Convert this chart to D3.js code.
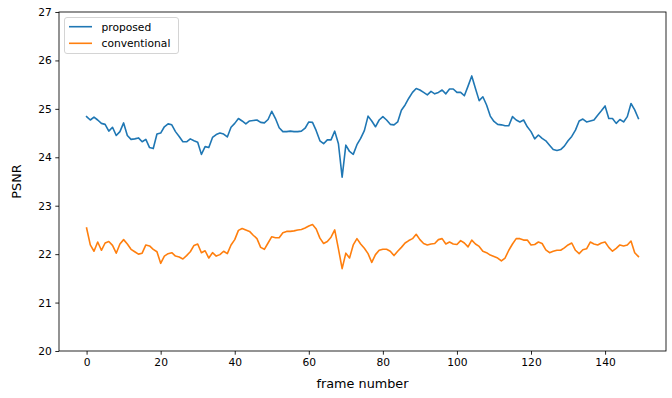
<!DOCTYPE html>
<html>
<head>
<meta charset="utf-8">
<script src="https://cdn.jsdelivr.net/npm/d3@7"></script>
<style>
  body { margin: 0; background: #fff; }
  svg { display: block; font-family: "DejaVu Sans", sans-serif; }
</style>
</head>
<body>
<svg id="chart" width="672" height="398"></svg>
<script>
// PSNR per frame
const proposed = [
  24.84, 24.77, 24.83, 24.77, 24.70, 24.68, 24.54, 24.62, 24.45, 24.53,
  24.71, 24.45, 24.37, 24.38, 24.40, 24.32, 24.37, 24.20, 24.18, 24.48,
  24.50, 24.63, 24.69, 24.67, 24.53, 24.43, 24.32, 24.32, 24.38, 24.34,
  24.31, 24.06, 24.22, 24.20, 24.41, 24.47, 24.50, 24.48, 24.42, 24.62,
  24.70, 24.80, 24.75, 24.69, 24.75, 24.76, 24.77, 24.72, 24.71, 24.78,
  24.95, 24.80, 24.61, 24.53, 24.53, 24.54, 24.53, 24.53, 24.54, 24.60,
  24.73, 24.72, 24.55, 24.34, 24.28, 24.36, 24.36, 24.54, 24.28, 23.59,
  24.25, 24.12, 24.06, 24.26, 24.39, 24.55, 24.85, 24.75, 24.63, 24.77,
  24.84, 24.77, 24.68, 24.67, 24.73, 24.97, 25.08, 25.22, 25.34, 25.42,
  25.39, 25.34, 25.29, 25.36, 25.31, 25.34, 25.39, 25.31, 25.41, 25.41,
  25.34, 25.34, 25.27, 25.47, 25.68, 25.42, 25.17, 25.25, 25.08, 24.85,
  24.74, 24.68, 24.67, 24.65, 24.65, 24.84, 24.77, 24.73, 24.77, 24.63,
  24.53, 24.38, 24.46, 24.39, 24.34, 24.25, 24.16, 24.14, 24.16, 24.23,
  24.34, 24.43, 24.56, 24.75, 24.79, 24.73, 24.75, 24.77, 24.87, 24.96,
  25.06, 24.80, 24.80, 24.70, 24.78, 24.73, 24.84, 25.11, 24.98, 24.80
];
const conventional = [
  22.54, 22.19, 22.06, 22.25, 22.08, 22.23, 22.26, 22.18, 22.02, 22.21,
  22.30, 22.21, 22.10, 22.05, 22.00, 22.02, 22.19, 22.17, 22.10, 22.05,
  21.81, 21.96, 22.01, 22.03, 21.96, 21.94, 21.90, 21.97, 22.05, 22.18,
  22.21, 22.03, 22.07, 21.92, 22.03, 21.96, 21.99, 22.06, 22.01, 22.19,
  22.30, 22.49, 22.53, 22.50, 22.47, 22.39, 22.32, 22.14, 22.10, 22.23,
  22.36, 22.34, 22.34, 22.44, 22.47, 22.47, 22.48, 22.50, 22.51, 22.54,
  22.58, 22.61, 22.52, 22.33, 22.22, 22.26, 22.35, 22.50, 22.11, 21.70,
  22.02, 21.92, 22.19, 22.32, 22.21, 22.12, 22.01, 21.83, 21.99, 22.08,
  22.10, 22.10, 22.06, 21.97, 22.06, 22.14, 22.23, 22.28, 22.32, 22.41,
  22.30, 22.22, 22.19, 22.21, 22.22, 22.30, 22.32, 22.21, 22.25, 22.21,
  22.20, 22.28, 22.23, 22.15, 22.29, 22.21, 22.16, 22.06, 22.03, 21.98,
  21.95, 21.92, 21.86, 21.92, 22.08, 22.21, 22.32, 22.32, 22.29, 22.29,
  22.19, 22.20, 22.25, 22.22, 22.09, 22.03, 22.06, 22.08, 22.08, 22.13,
  22.19, 22.23, 22.08, 22.01, 22.09, 22.11, 22.25, 22.21, 22.19, 22.23,
  22.25, 22.14, 22.06, 22.12, 22.19, 22.17, 22.19, 22.27, 22.03, 21.95
];
const seriesNames = ["proposed", "conventional"];
const seriesColors = ["#1f77b4", "#ff7f0e"];
const xTicks = [0, 20, 40, 60, 80, 100, 120, 140];
const yTicks = [20, 21, 22, 23, 24, 25, 26, 27];

const svg = d3.select("#chart");
const plotL = 59, plotR = 666, plotT = 12, plotB = 351;
const tickFont = 10.7;

// matplotlib-like 5% margin around 0..149
let n = proposed.length;
let pad = (n - 1) * 0.05;
let x = d3.scaleLinear().domain([-pad, n - 1 + pad]).range([plotL, plotR]);
let y = d3.scaleLinear().domain([20, 27]).range([plotB, plotT]);

let line = d3.line().x((d, i) => x(i)).y(d => y(d));
[proposed, conventional].forEach((vals, k) => {
  svg.append("path")
    .attr("d", line(vals))
    .attr("fill", "none")
    .attr("stroke", seriesColors[k])
    .attr("stroke-width", 1.6)
    .attr("stroke-linejoin", "round")
    .attr("stroke-linecap", "square");
});

// axes
let xAxis = svg.append("g").attr("transform", `translate(0,${plotB})`)
  .call(d3.axisBottom(x).tickValues(xTicks).tickFormat(d3.format("d"))
    .tickSizeOuter(0).tickSize(3.7).tickPadding(3.5));
let yAxis = svg.append("g").attr("transform", `translate(${plotL},0)`)
  .call(d3.axisLeft(y).tickValues(yTicks).tickFormat(d3.format("d"))
    .tickSizeOuter(0).tickSize(3.7).tickPadding(3.5));
[xAxis, yAxis].forEach(g => {
  g.select(".domain").remove();
  g.selectAll("line").attr("stroke", "#000").attr("stroke-width", 0.85);
  g.selectAll("text").attr("font-size", tickFont).attr("fill", "#000")
    .attr("font-family", "DejaVu Sans, sans-serif");
});

// frame
svg.append("rect")
  .attr("x", plotL).attr("y", plotT)
  .attr("width", plotR - plotL).attr("height", plotB - plotT)
  .attr("fill", "none").attr("stroke", "#000").attr("stroke-width", 0.85);

// axis labels
svg.append("text")
  .attr("x", (plotL + plotR) / 2).attr("y", 388)
  .attr("text-anchor", "middle").attr("font-size", 12.8)
  .text("frame number");
svg.append("text")
  .attr("transform", `translate(21,${(plotT + plotB) / 2}) rotate(-90)`)
  .attr("text-anchor", "middle").attr("font-size", 12.8)
  .text("PSNR");

// legend
let legend = svg.append("g").attr("transform", "translate(64,17)");
legend.append("rect")
  .attr("x", 0.5).attr("y", 0.5).attr("width", 114).attr("height", 36)
  .attr("rx", 2.5).attr("fill", "#fff").attr("fill-opacity", 0.8)
  .attr("stroke", "#cccccc").attr("stroke-width", 0.85);
seriesNames.forEach((name, k) => {
  let cy = 9.7 + k * 16.6;
  legend.append("line")
    .attr("x1", 5).attr("x2", 28).attr("y1", cy).attr("y2", cy)
    .attr("stroke", seriesColors[k]).attr("stroke-width", 1.6);
  legend.append("text")
    .attr("x", 37.5).attr("y", cy).attr("dy", "0.36em")
    .attr("font-size", tickFont)
    .text(name);
});
</script>
</body>
</html>
